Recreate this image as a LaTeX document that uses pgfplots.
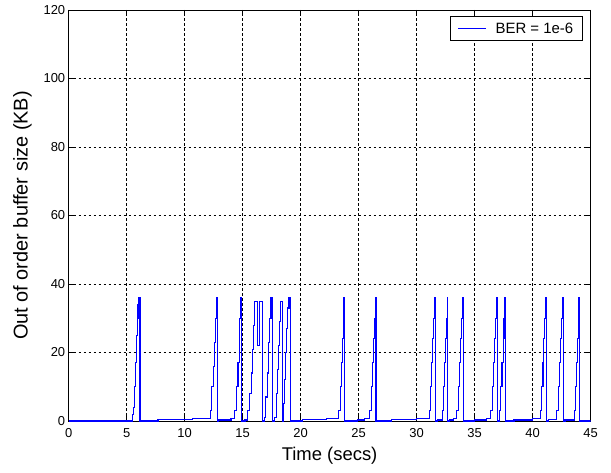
\documentclass[border=0pt]{standalone}
\usepackage{fontspec}
\setmainfont{Liberation Sans}
\usepackage{pgfplots}
\pgfplotsset{compat=1.18}
\definecolor{mblue}{rgb}{0,0,1}
\begin{document}
\begin{tikzpicture}
\begin{axis}[
  name=ax,
  scale only axis,
  width=521.8bp, height=411bp,
  xmin=0, xmax=45, ymin=0, ymax=120,
  xtick={0,5,...,45}, ytick={0,20,...,120},
  grid=major,
  major grid style={black, line width=0.5bp, dash pattern=on 2.5bp off 2.5bp},
  tick align=inside,
  major tick length=5bp,
  every tick/.style={black, line width=0.5bp},
  axis line style={black, line width=0.6bp},
  /pgf/number format/assume math mode=true,
  tick label style={font=\fontsize{13}{15}\selectfont},
  xticklabel style={yshift=-4bp},
  xlabel={Time (secs)},
  ylabel={Out of order buffer size (KB)},
  xlabel style={font=\fontsize{18.5}{20}\selectfont, at={(axis description cs:0.5,-0.0973)}, anchor=base},
  ylabel style={font=\fontsize{20}{22}\selectfont, at={(axis description cs:-0.0885,0.5)}, anchor=center},
  legend style={at={(1,1)}, anchor=north east, xshift=-8bp, yshift=-6.5bp,
    draw=black, line width=0.5bp, font=\fontsize{15}{17}\selectfont,
    inner xsep=7bp, inner ysep=4bp},
  legend cell align=left,
]
\addplot[mblue, line width=1.1bp, const plot,
  legend image code/.code={\draw[mblue, line width=1bp] (0bp,0bp) -- (28bp,0bp); \path (35bp,0bp);}] coordinates {
(0,0)
(5.5,2) (5.6,4) (5.7,10) (5.78,17) (5.85,25) (5.92,30) (5.98,34) (6.05,36) (6.15,0)
(7.7,0.4) (10.7,0.8)
(12.2,3) (12.35,10) (12.5,16) (12.6,23) (12.68,30) (12.74,34) (12.78,36) (12.86,0)
(12.95,0.3) (14.0,0.8)
(14.3,3) (14.45,10) (14.6,17) (14.7,24) (14.76,30) (14.82,36) (14.9,0)
(15.2,0.3) (15.4,3) (15.6,8) (15.75,14) (15.85,21) (15.95,28) (16.05,35) (16.3,22) (16.45,35) (16.7,0)
(16.88,1) (17.0,7) (17.15,14) (17.25,23) (17.35,30) (17.45,36) (17.6,0)
(17.75,1) (17.9,8) (18.0,15) (18.1,22) (18.2,29) (18.3,35) (18.45,0)
(18.5,5) (18.6,12) (18.7,20) (18.8,27) (18.9,33) (19.0,36) (19.1,0)
(20.2,0.4) (22.2,0.8)
(23.3,3) (23.42,10) (23.52,17) (23.6,24) (23.67,30) (23.73,36) (23.8,0)
(24.9,0.3) (25.5,0.6)
(25.95,3) (26.08,10) (26.2,17) (26.3,24) (26.38,30) (26.44,36) (26.5,0)
(27.8,0.4) (30.0,0.8)
(31.1,3) (31.22,10) (31.32,17) (31.4,24) (31.48,30) (31.55,36) (31.65,0)
(31.8,0.3)
(32.2,3) (32.32,10) (32.42,17) (32.5,24) (32.57,30) (32.63,36) (32.7,0)
(32.85,0.3) (33.2,0.8)
(33.45,3) (33.58,10) (33.7,17) (33.8,24) (33.9,30) (33.98,36) (34.07,0)
(35.0,0.3) (36.0,0.6)
(36.4,3) (36.52,10) (36.64,17) (36.73,24) (36.8,30) (36.88,36) (36.95,0)
(37.12,3) (37.25,10) (37.37,17) (37.46,24) (37.54,30) (37.62,36) (37.7,0)
(38.4,0.3) (40.0,0.6)
(40.7,3) (40.8,10) (40.9,17) (40.98,24) (41.05,30) (41.12,36) (41.2,0)
(41.35,0.4)
(42.1,3) (42.22,10) (42.34,17) (42.44,24) (42.52,30) (42.6,36) (42.67,0)
(42.8,0.3)
(43.6,3) (43.7,10) (43.8,17) (43.88,24) (43.94,30) (44.0,36) (44.05,0)
(45,0)
};
\addlegendentry{BER = 1e-6\hspace{10bp}}
\end{axis}
\pgfresetboundingbox
\path[use as bounding box] ([shift={(-68.7bp,-52bp)}]ax.south west) rectangle ([shift={(20.5bp,10bp)}]ax.north east);
\end{tikzpicture}
\end{document}
